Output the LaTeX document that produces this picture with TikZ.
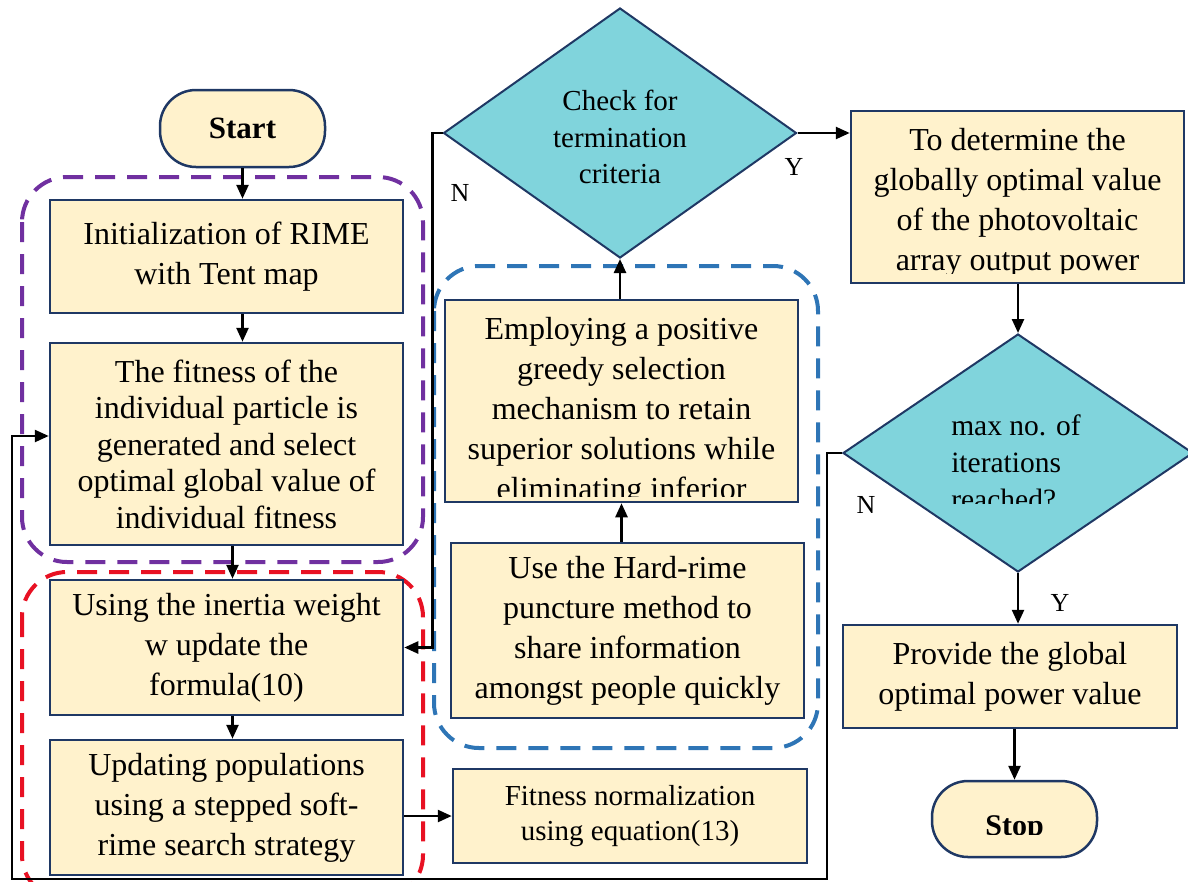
\documentclass[tikz,border=0pt]{standalone}
\usepackage{fontspec}
\setmainfont{Liberation Serif}
\usetikzlibrary{shapes.geometric,arrows.meta}
\definecolor{boxfill}{HTML}{FFF2CC}
\definecolor{boxline}{HTML}{1F3864}
\definecolor{decfill}{HTML}{80D4DC}
\definecolor{grppurple}{HTML}{7030A0}
\definecolor{grpred}{HTML}{E81123}
\definecolor{grpblue}{HTML}{2E75B6}
\begin{document}
\begin{tikzpicture}[x=1pt, y=-1pt,
    boxtext/.style={inner sep=0pt, align=center, font=\fontsize{32}{40}\selectfont},
    procbox/.style={boxtext, draw=boxline, fill=boxfill, line width=2.5pt},
    termbox/.style={procbox, rounded corners=36pt, font=\fontsize{31}{37}\selectfont\bfseries},
    decision/.style={diamond, draw=boxline, fill=decfill, line width=2pt, inner sep=0pt, align=center, font=\fontsize{29}{36.5}\selectfont},
    arr/.style={line width=2.5pt, -{Triangle[length=14pt,width=12pt]}},
    lbl/.style={inner sep=0pt, font=\fontsize{26}{30}\selectfont},
    grp/.style={line width=4pt, dash pattern=on 20pt off 12pt, rounded corners=45pt}]
    \clip (0,0) rectangle (1188,881);

    % dashed groups
    \draw[grp, grppurple] (22,177) rectangle (423,562);
    \draw[grp, grpred] (22,572) rectangle (423,900);
    \draw[grp, grpblue] (434,266) rectangle (818,748);

    % left column
    \node[termbox, minimum width=165pt, minimum height=77pt] (start) at (242.5,128.5) {\raisebox{-4pt}{Start}};
    \node[procbox, minimum width=353pt, minimum height=113pt] (init) at (226.5,256.5) {Initialization of RIME\\with Tent map};
    \node[procbox, minimum width=353pt, minimum height=202pt, font=\fontsize{32}{36.5}\selectfont] (fit) at (226.5,444) {The fitness of the\\individual particle is\\generated and select\\optimal global value of\\individual fitness};
    \node[procbox, minimum width=353pt, minimum height=135pt] (inertia) at (226.5,647.5) {Using the inertia weight\\w update the\\formula(10)};
    \node[procbox, minimum width=353pt, minimum height=135pt] (update) at (226.5,807.5) {Updating populations\\using a stepped soft-\\rime search strategy};

    % middle column
    \node[decision, minimum width=353pt, minimum height=250pt] (check) at (620,133) {};
    \node[boxtext, font=\fontsize{29}{36.5}\selectfont] (checktxt) at (620,137) {Check for\\termination\\criteria};
    \node[procbox, minimum width=353pt, minimum height=202pt] (employ) at (621.5,401) {};
    \begin{scope}
        \clip (employ.north west) rectangle ([yshift=7pt]employ.south east);
        \node[boxtext] (employtxt) at (621.5,412) {Employing a positive\\greedy selection\\mechanism to retain\\superior solutions while\\eliminating inferior};
    \end{scope}
    \node[procbox, minimum width=353pt, minimum height=175pt] (hard) at (627.5,630.5) {Use the Hard-rime\\puncture method to\\share information\\amongst people quickly};
    \node[procbox, minimum width=354pt, minimum height=94pt, font=\fontsize{29}{35}\selectfont] (norm) at (630,816) {Fitness normalization\\using equation(13)};

    % right column
    \node[procbox, minimum width=333pt, minimum height=172pt] (determ) at (1017.5,197) {};
    \begin{scope}
        \clip (determ.north west) rectangle ([yshift=11pt]determ.south east);
        \node[boxtext] (determtxt) at (1017.5,203) {To determine the\\globally optimal value\\of the photovoltaic\\array output power};
    \end{scope}
    \node[decision, minimum width=350pt, minimum height=238pt] (maxit) at (1018,453) {};
    \begin{scope}
        \clip (843,334) rectangle (1188,503);
        \node[boxtext, align=left, font=\fontsize{29.5}{37}\selectfont] (maxittxt) at (1016,462) {max no. of\\iterations\\reached?};
    \end{scope}
    \node[procbox, minimum width=334pt, minimum height=103pt] (provide) at (1010,676.5) {Provide the global\\optimal power value};
    \node[termbox, minimum width=165pt, minimum height=76pt] (stop) at (1014.5,819) {};
    \begin{scope}
        \clip (stop.north west) rectangle (stop.south east |- 0,834);
        \node[boxtext, font=\fontsize{30}{36}\selectfont\bfseries] (stoptxt) at (1014.5,829) {Stop};
    \end{scope}

    % connectors
    \draw[arr] (start.south) -- (start.south |- init.north);
    \draw[arr] (init.south -| start.south) -- (start.south |- fit.north);
    \draw[arr] ([xshift=6pt]fit.south) -- ([xshift=6pt]inertia.north);
    \draw[arr] ([xshift=6pt]inertia.south) -- ([xshift=6pt]update.north);
    \draw[arr] (update.east |- norm.west) -- (norm.west);
    \draw[arr] (hard.north -| employ.south) -- (employ.south);
    \draw[arr] (check.south |- employ.north) -- (check.south);
    \draw[arr] (check.west) -- ++(-10,0) |- (inertia.east);
    \draw[arr] (check.east) -- (determ.west |- check.east);
    \draw[arr] (determ.south -| maxit.north) -- (maxit.north);
    \draw[arr] (maxit.south) -- (maxit.south |- provide.north);
    \draw[arr] (provide.south -| stop.north) -- (stop.north);
    \draw[arr] (maxit.west) -- ++(-15,0) |- (12,879) |- ([yshift=8pt]fit.west);

    % branch labels
    \node[lbl] (checkN) at (460,193) {N};
    \node[lbl] (checkY) at (794,167) {Y};
    \node[lbl] (maxitN) at (866,505) {N};
    \node[lbl] (maxitY) at (1060,603) {Y};
\end{tikzpicture}
\end{document}
